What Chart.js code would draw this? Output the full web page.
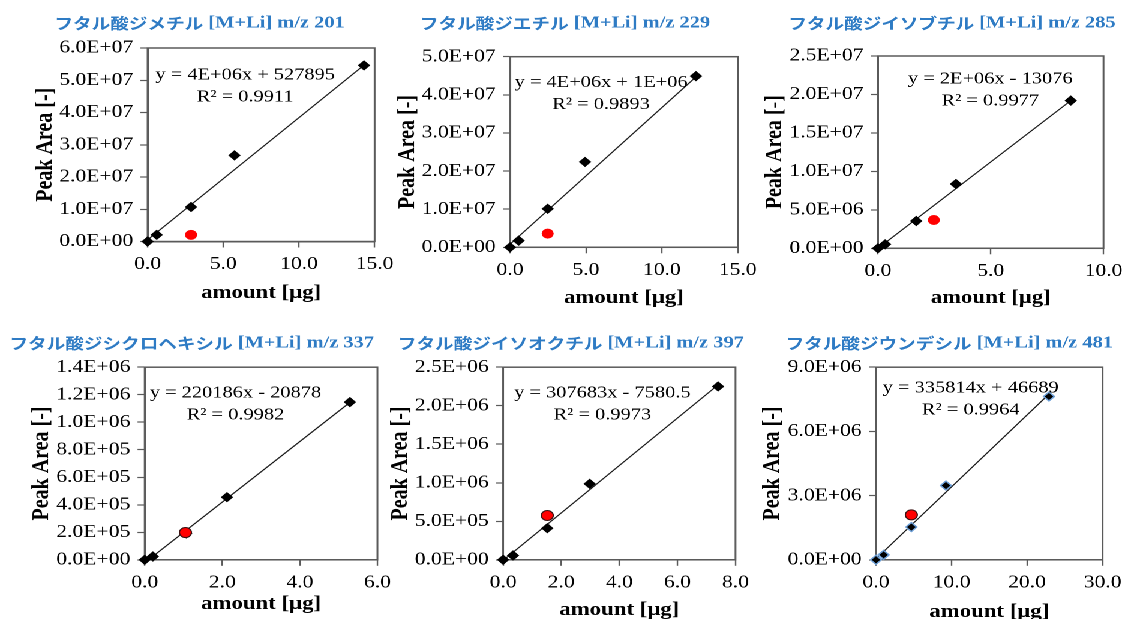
<!DOCTYPE html>
<html>
<head>
<meta charset="utf-8">
<script src="https://cdn.jsdelivr.net/npm/chart.js@4.4.1/dist/chart.umd.min.js"></script>
<style>
html, body { margin: 0; padding: 0; background: #fff; }
/* the source picture is stretched sideways, so the whole sheet is too */
#stage { position: absolute; left: 0; top: 0; width: 937px; height: 619px; transform: scaleX(1.2); transform-origin: 0 0; }
#stage canvas { position: absolute; }
</style>
</head>
<body>
<div id="stage"></div>
<script>
const titles = [
    'フタル酸ジメチル [M+Li] m/z 201',
    'フタル酸ジエチル [M+Li] m/z 229',
    'フタル酸ジイソブチル [M+Li] m/z 285',
    'フタル酸ジシクロヘキシル [M+Li] m/z 337',
    'フタル酸ジイソオクチル [M+Li] m/z 397',
    'フタル酸ジウンデシル [M+Li] m/z 481'
];
const equations = [
    'y = 4E+06x + 527895',
    'y = 4E+06x + 1E+06',
    'y = 2E+06x - 13076',
    'y = 220186x - 20878',
    'y = 307683x - 7580.5',
    'y = 335814x + 46689'
];
const r2Texts = ['R² = 0.9911', 'R² = 0.9893', 'R² = 0.9977', 'R² = 0.9982', 'R² = 0.9973', 'R² = 0.9964'];

// axis ranges
const xMax = [15, 15, 10, 6, 8, 30];
const xStep = [5, 5, 5, 2, 2, 10];
const yMax = [6e7, 5e7, 2.5e7, 1.4e6, 2.5e6, 9e6];
const yStep = [1e7, 1e7, 5e6, 2e5, 5e5, 3e6];

// standards (black diamonds), amount [ug] / peak area
const dmpAmount = [0, 0.6, 2.87, 5.74, 14.3];
const dmpArea = [0, 2.07e6, 1.07e7, 2.67e7, 5.46e7];
const depAmount = [0, 0.57, 2.48, 4.94, 12.25];
const depArea = [0, 1.75e6, 1.01e7, 2.24e7, 4.49e7];
const dibpAmount = [0, 0.32, 1.70, 3.46, 8.55];
const dibpArea = [0, 5.2e5, 3.55e6, 8.36e6, 1.92e7];
const dchpAmount = [0, 0.21, 1.07, 2.12, 5.29];
const dchpArea = [0, 2.4e4, 1.92e5, 4.55e5, 1.146e6];
const diopAmount = [0, 0.34, 1.52, 2.98, 7.40];
const diopArea = [0, 5.6e4, 4.1e5, 9.86e5, 2.25e6];
const dupAmount = [0, 1.01, 4.68, 9.26, 22.9];
const dupArea = [0, 2.3e5, 1.53e6, 3.47e6, 7.63e6];

// sample (red circle)
const sampleAmount = [2.87, 2.48, 2.48, 1.05, 1.52, 4.68];
const sampleArea = [2.07e6, 3.6e6, 3.68e6, 1.98e5, 5.75e5, 2.1e6];

// trendline, value at x = 0 and at the last standard
const fitStart = [0.53e6, 0.8e6, -1.3e4, -2.1e4, -7.6e3, 4.7e4];
const fitEnd = [5.47e7, 4.47e7, 1.92e7, 1.144e6, 2.27e6, 7.74e6];

const stdAmounts = [dmpAmount, depAmount, dibpAmount, dchpAmount, diopAmount, dupAmount];
const stdAreas = [dmpArea, depArea, dibpArea, dchpArea, diopArea, dupArea];

// layout, in picture pixels: plot box, title / axis-title centres, equation anchor (fraction of plot)
const S = 1.2;
const boxes = [
    { L: 148, R: 375, T: 48, B: 241.5, yTitleX: 46, titleX: 200, titleY: 23, xTitleY: 292.5, eqX: 0.43, eqY: 0.14 },
    { L: 510, R: 737.7, T: 56.7, B: 247.3, yTitleX: 408, titleX: 565, titleY: 23, xTitleY: 297.5, eqX: 0.40, eqY: 0.135 },
    { L: 877.7, R: 1103.3, T: 56, B: 248.3, yTitleX: 775, titleX: 951.7, titleY: 23, xTitleY: 297.5, eqX: 0.498, eqY: 0.12 },
    { L: 145, R: 377.7, T: 366.7, B: 559.3, yTitleX: 42.3, titleX: 192, titleY: 342.5, xTitleY: 603.3, eqX: 0.39, eqY: 0.134 },
    { L: 503.3, R: 735.7, T: 366.7, B: 559.3, yTitleX: 401, titleX: 571, titleY: 342.5, xTitleY: 609, eqX: 0.427, eqY: 0.134 },
    { L: 875.7, R: 1102.3, T: 366.7, B: 559.3, yTitleX: 772.5, titleX: 949, titleY: 342.5, xTitleY: 611, eqX: 0.418, eqY: 0.108 }
];
const leftRoom = 20; // extra canvas room left of the y title, so long titles are not cut

const axisColor = '#5a5a5a';
const titleColor = '#2e7bc4';
const serif = '"Liberation Serif", "Times New Roman", serif';
const kanaFont = 'bold 15.5px "Noto Sans CJK JP", sans-serif';
const latinFont = 'bold 17px ' + serif;

Chart.defaults.font.family = serif;
Chart.defaults.color = '#000';

function sci(v) {
    const [m, e] = v.toExponential(1).split('e');
    const n = Math.abs(parseInt(e, 10));
    return m + 'E' + (e[0] === '-' ? '-' : '+') + String(n).padStart(2, '0');
}

// title: Japanese name in gothic, the rest in serif, centred as one line
function drawTitle(ctx, text, cx, cy) {
    const cut = text.indexOf(' ');
    const head = text.slice(0, cut);
    const tail = text.slice(cut);
    ctx.font = kanaFont;
    const w1 = ctx.measureText(head).width;
    ctx.font = latinFont;
    const w2 = ctx.measureText(tail).width;
    let x = cx - (w1 + w2) / 2;
    ctx.textAlign = 'left';
    ctx.font = kanaFont;
    ctx.fillText(head, x, cy);
    ctx.font = latinFont;
    ctx.fillText(tail, x + w1, cy);
}

const framePlugin = {
    id: 'frame',
    beforeDatasetsDraw(chart) {
        const { ctx, chartArea: a } = chart;
        ctx.save();
        ctx.strokeStyle = axisColor;
        ctx.lineWidth = 1.5;
        ctx.strokeRect(a.left, a.top, a.right - a.left, a.bottom - a.top);
        ctx.restore();
    },
    afterDraw(chart, args, opts) {
        const { ctx, chartArea: a } = chart;
        ctx.save();
        ctx.textBaseline = 'middle';
        ctx.fillStyle = titleColor;
        drawTitle(ctx, opts.title, opts.titleX, opts.titleY);
        ctx.textAlign = 'center';
        ctx.fillStyle = '#000';
        ctx.font = '17px ' + serif;
        const ex = a.left + opts.eqX * (a.right - a.left);
        const ey = a.top + opts.eqY * (a.bottom - a.top);
        ctx.fillText(opts.eq, ex, ey);
        ctx.fillText(opts.r2, ex, ey + 22);
        ctx.restore();
    }
};

function buildPanel(i) {
    const b = boxes[i];
    const L = b.L / S, R = b.R / S;
    const cl = b.yTitleX / S - 14 - leftRoom;
    const ct = b.titleY - 20;
    const cw = Math.ceil(R + 25 - cl);
    const ch = Math.ceil(b.xTitleY + 15 - ct);

    const canvas = document.createElement('canvas');
    canvas.width = cw;
    canvas.height = ch;
    canvas.style.left = cl + 'px';
    canvas.style.top = ct + 'px';
    document.getElementById('stage').appendChild(canvas);

    const standards = stdAmounts[i].map((x, k) => ({ x: x, y: stdAreas[i][k] }));
    const last = stdAmounts[i][stdAmounts[i].length - 1];
    const lower = i >= 3;

    new Chart(canvas, {
        type: 'scatter',
        data: {
            datasets: [
                {
                    data: [{ x: sampleAmount[i], y: sampleArea[i] }],
                    pointStyle: 'circle',
                    pointRadius: 5,
                    backgroundColor: '#ff0000',
                    borderColor: lower ? '#3a1010' : '#ff0000',
                    borderWidth: lower ? 1 : 0,
                    clip: false
                },
                {
                    data: standards,
                    pointStyle: 'rectRot',
                    pointRadius: 4.5,
                    backgroundColor: '#000',
                    borderColor: i === 5 ? '#6d9fd6' : '#000',
                    borderWidth: i === 5 ? 1.3 : 1,
                    clip: false
                },
                {
                    data: [{ x: 0, y: fitStart[i] }, { x: last, y: fitEnd[i] }],
                    showLine: true,
                    pointRadius: 0,
                    borderColor: '#1a1a1a',
                    borderWidth: 1.1,
                    clip: 0
                }
            ]
        },
        options: {
            responsive: false,
            animation: false,
            devicePixelRatio: 2,
            events: [],
            layout: { padding: { left: 0, top: b.T - ct, right: cw - (R - cl), bottom: 0 } },
            plugins: {
                legend: { display: false },
                tooltip: { enabled: false },
                frame: { title: titles[i], titleX: b.titleX / S - cl, titleY: b.titleY - ct, eq: equations[i], r2: r2Texts[i], eqX: b.eqX, eqY: b.eqY }
            },
            scales: {
                x: {
                    type: 'linear',
                    min: 0,
                    max: xMax[i],
                    afterFit: s => { s.height = ch - (b.B - ct); },
                    ticks: { stepSize: xStep[i], autoSkip: false, maxRotation: 0, padding: 6, font: { size: 18 }, callback: v => v.toFixed(1) },
                    grid: { drawOnChartArea: false, drawTicks: true, tickLength: 6, tickColor: axisColor, tickWidth: 1.2 },
                    border: { display: true, color: axisColor, width: 1.5 },
                    title: { display: true, text: 'amount [μg]', font: { size: 19, weight: 'bold' }, padding: { top: 0, bottom: 3.6 } }
                },
                y: {
                    type: 'linear',
                    min: 0,
                    max: yMax[i],
                    afterFit: s => { s.width = L - cl; },
                    ticks: { stepSize: yStep[i], autoSkip: false, padding: 6, font: { size: 18 }, callback: v => sci(v) },
                    grid: { drawOnChartArea: false, drawTicks: true, tickLength: 6, tickColor: axisColor, tickWidth: 1.2 },
                    border: { display: true, color: axisColor, width: 1.5 },
                    title: { display: true, text: 'Peak Area [-]', font: { size: 20, weight: 'bold' }, padding: { top: 2 + leftRoom, bottom: 0 } }
                }
            }
        },
        plugins: [framePlugin]
    });
}

for (let i = 0; i < titles.length; i++) buildPanel(i);
</script>
</body>
</html>
